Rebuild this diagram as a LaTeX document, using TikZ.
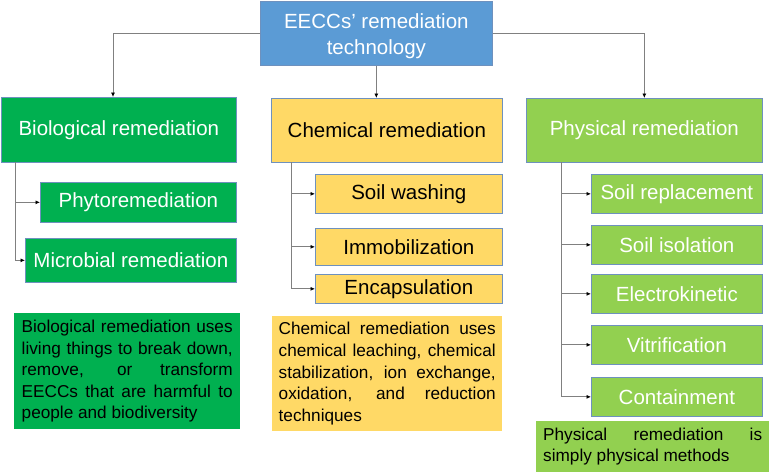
\documentclass[tikz,border=0pt]{standalone}
\usepackage{fontspec}
\setmainfont{Liberation Sans}
\usetikzlibrary{arrows.meta}
\definecolor{topblue}{RGB}{91,155,213}
\definecolor{dgreen}{RGB}{0,176,80}
\definecolor{lgreen}{RGB}{146,208,80}
\definecolor{yel}{RGB}{255,217,102}
\definecolor{boxline}{RGB}{110,145,190}
\definecolor{linegray}{RGB}{128,128,128}
\newcommand{\paraFont}{\fontsize{17.2}{21.6}\selectfont\hyphenpenalty=10000\relax\exhyphenpenalty=10000\relax\hbadness=10000\relax}
\tikzset{
  box/.style={draw=boxline, line width=0.7pt, inner sep=0pt, anchor=north west,
    font=\fontsize{20.5}{26}\selectfont, align=center},
  para/.style={inner sep=0pt, anchor=north west, text=black,
    font=\paraFont, align=justify},
  conn/.style={draw=linegray, line width=0.75pt, -{Latex[length=4.5pt,width=4pt,color=black]}}
}
\begin{document}
\begin{tikzpicture}[x=1pt,y=-1pt]
\useasboundingbox (0,0) rectangle (771,474);
% top
\node[box, fill=topblue, text=white, minimum width=232, minimum height=64] (top) at (260,1) {};
\node[text=white, font=\fontsize{20.5}{26}\selectfont, align=center, inner sep=0pt] (toplabel) at ([yshift=-3pt]top.center) {EECCs’ remediation\\technology};
% level 1
\node[box, fill=dgreen, text=white, minimum width=235, minimum height=65] (bio) at (1,97) {Biological remediation};
\node[box, fill=yel, text=black, minimum width=231, minimum height=64] (chem) at (271,98) {Chemical remediation};
\node[box, fill=lgreen, text=white, minimum width=236, minimum height=64] (phys) at (526,98) {Physical remediation};
% top connectors
\coordinate (bioIn) at (113,97);
\draw[conn] (top.west) -| (bioIn);
\draw[conn] (top.east) -| (phys.north);
\draw[conn] (top.south) -- (top.south |- chem.north);
% bio subs
\node[box, fill=dgreen, text=white, minimum width=196, minimum height=40] (phyto) at (40,182) {Phytoremediation};
\node[box, fill=dgreen, text=white, minimum width=211, minimum height=44] (micro) at (25,238) {Microbial remediation};
\coordinate (bioT) at (15,162);
\draw[conn] (bioT) |- (phyto.west);
\draw[conn] (bioT) |- (micro.west);
% chem subs
\node[box, fill=yel, text=black, minimum width=187, minimum height=39] (wash) at (315,174) {Soil washing};
\node[box, fill=yel, text=black, minimum width=187, minimum height=37] (immo) at (315,228) {Immobilization};
\node[box, fill=yel, text=black, minimum width=187, minimum height=29] (enc) at (315,274) {Encapsulation};
\coordinate (chemT) at (291,162);
\draw[conn] (chemT) |- (wash.west);
\draw[conn] (chemT) |- (immo.west);
\draw[conn] (chemT) |- (enc.west);
% phys subs
\node[box, fill=lgreen, text=white, minimum width=171, minimum height=39] (repl) at (591,174) {Soil replacement};
\node[box, fill=lgreen, text=white, minimum width=171, minimum height=39] (iso) at (591,225) {Soil isolation};
\node[box, fill=lgreen, text=white, minimum width=171, minimum height=39] (elec) at (591,274) {Electrokinetic};
\node[box, fill=lgreen, text=white, minimum width=171, minimum height=39] (vit) at (591,325) {Vitrification};
\node[box, fill=lgreen, text=white, minimum width=171, minimum height=39] (cont) at (591,377) {Containment};
\coordinate (physT) at (561,162);
\draw[conn] (physT) |- (repl.west);
\draw[conn] (physT) |- (iso.west);
\draw[conn] (physT) |- (elec.west);
\draw[conn] (physT) |- (vit.west);
\draw[conn] (physT) |- (cont.west);
% description boxes
\node[para, fill=dgreen, minimum width=226, minimum height=116, text width=211] (biotext) at (14,313)
  {Biological remediation uses\linebreak living things to break down,\linebreak remove, or transform\linebreak EECCs that are harmful to\linebreak people and biodiversity};
\node[para, fill=yel, minimum width=230, minimum height=115, text width=217] (chemtext) at (272,316)
  {Chemical remediation uses\linebreak chemical leaching, chemical\linebreak stabilization, ion exchange,\linebreak oxidation, and reduction\linebreak techniques};
\node[para, fill=lgreen, minimum width=233, minimum height=51, text width=219] (phystext) at (536,421)
  {Physical remediation is\linebreak simply physical methods};
\end{tikzpicture}
\end{document}
